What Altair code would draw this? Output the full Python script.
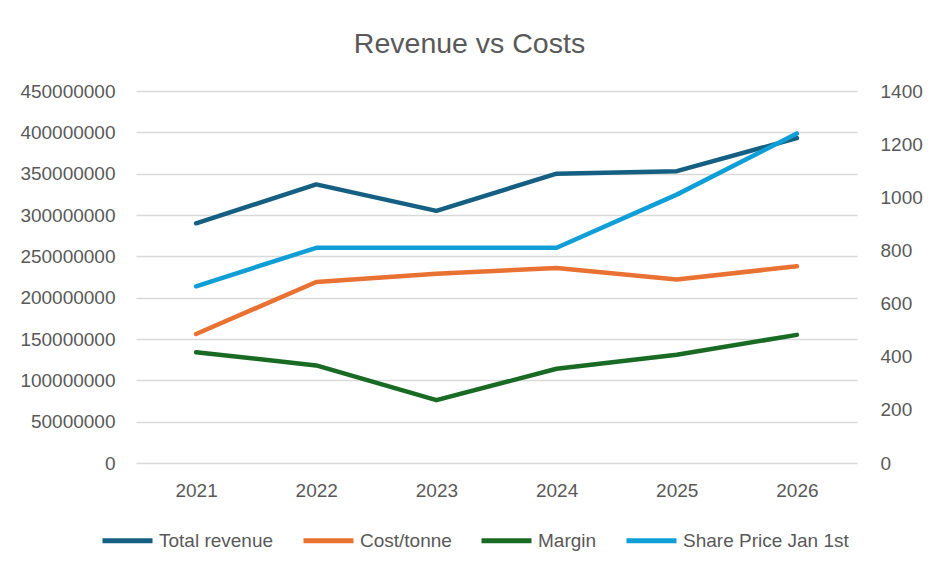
import altair as alt
import pandas as pd

# Yearly figures
years = ["2021", "2022", "2023", "2024", "2025", "2026"]
total_revenue = [290e6, 337e6, 305e6, 350e6, 353e6, 393e6]
cost_per_tonne = [156e6, 219e6, 229e6, 236e6, 222e6, 238e6]
margin = [134e6, 118e6, 76e6, 114e6, 131e6, 155e6]
share_price = [665, 810, 810, 810, 1010, 1240]

series_names = ["Total revenue", "Cost/tonne", "Margin", "Share Price Jan 1st"]
series_colors = ["#156082", "#E97132", "#196B24", "#0F9ED5"]

left_axis_ticks = list(range(0, 450_000_001, 50_000_000))
right_axis_ticks = list(range(0, 1401, 200))

rows = []
for name, vals in zip(series_names, [total_revenue, cost_per_tonne, margin, share_price]):
    for y, v in zip(years, vals):
        rows.append({"year": y, "series": name, "value": v})
df = pd.DataFrame(rows)

FONT = "Liberation Sans"
GREY = "#595959"

color = alt.Color(
    "series:N",
    scale=alt.Scale(domain=series_names, range=series_colors),
    sort=series_names,
    legend=alt.Legend(
        title=None,
        orient="none",
        direction="horizontal",
        legendX=-36,
        legendY=422,
        symbolType="stroke",
        symbolSize=2500,
        symbolStrokeWidth=5,
        labelFont=FONT,
        labelFontSize=19,
        labelColor=GREY,
        labelOffset=4,
        labelLimit=400,
        columnPadding=19,
    ),
)

x = alt.X(
    "year:O",
    sort=years,
    scale=alt.Scale(type="point", padding=0.5),
    axis=alt.Axis(
        title=None, labelAngle=0, domain=False, ticks=False, grid=False,
        labelFont=FONT, labelFontSize=19, labelColor=GREY, labelPadding=18,
    ),
)

line_style = dict(strokeWidth=4.5, strokeCap="round", strokeJoin="round")

left = alt.Chart(df).transform_filter(
    alt.FieldOneOfPredicate(field="series", oneOf=series_names[:3])
).mark_line(**line_style).encode(
    x=x,
    y=alt.Y(
        "value:Q",
        scale=alt.Scale(domain=[0, 450_000_000], nice=False),
        axis=alt.Axis(
            title=None, values=left_axis_ticks, format="d", domain=False,
            ticks=False, tickSize=0, labelPadding=21, grid=True,
            gridColor="#d9d9d9", gridWidth=1.3,
            labelFont=FONT, labelFontSize=19, labelColor=GREY,
        ),
    ),
    color=color,
)

right = alt.Chart(df).transform_filter(
    alt.FieldEqualPredicate(field="series", equal="Share Price Jan 1st")
).mark_line(**line_style).encode(
    x=x,
    y=alt.Y(
        "value:Q",
        scale=alt.Scale(domain=[0, 1400], nice=False),
        axis=alt.Axis(
            title=None, orient="right", values=right_axis_ticks, format="d",
            domain=False, ticks=False, tickSize=0, labelPadding=23, grid=False,
            labelFont=FONT, labelFontSize=19, labelColor=GREY,
        ),
    ),
    color=color,
)

chart = alt.layer(left, right).resolve_scale(y="independent").properties(
    width=721,
    height=372,
    padding={"left": 136, "top": 91, "right": 83, "bottom": 112},
    autosize=alt.AutoSizeParams(type="none"),
    title=alt.TitleParams(
        "Revenue vs Costs", font=FONT, fontSize=28.5, fontWeight="normal",
        color=GREY, anchor="middle", offset=24, dx=-27,
    ),
).configure(background="white").configure_view(strokeWidth=0)

chart.save("out.html", embed_options={"renderer": "svg", "actions": False})
